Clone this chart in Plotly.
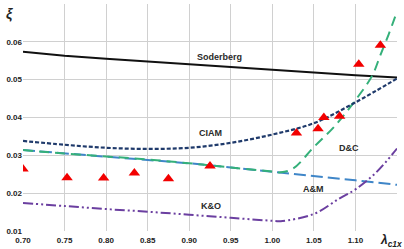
import plotly.graph_objects as go

# ---- data ----
sod_x = [0.70, 0.75, 0.80, 0.85, 0.90, 0.95, 1.00, 1.05, 1.10, 1.15]
sod_y = [0.0574, 0.0563, 0.0555, 0.0548, 0.0540, 0.0532, 0.0525, 0.0518, 0.0512, 0.0506]

ciam_x = [0.70, 0.75, 0.80, 0.85, 0.90, 0.95, 1.00, 1.05, 1.10, 1.15]
ciam_y = [0.0338, 0.0328, 0.0320, 0.0317, 0.0320, 0.0333, 0.0355, 0.0385, 0.0440, 0.0503]

dc_x = [0.70, 0.75, 0.80, 0.85, 0.90, 0.95, 1.00, 1.01, 1.025, 1.05, 1.075, 1.10, 1.12, 1.13, 1.14, 1.15]
dc_y = [0.0314, 0.0305, 0.0297, 0.0289, 0.0279, 0.0268, 0.0257, 0.0255, 0.0265, 0.0322, 0.0377, 0.0446, 0.0510, 0.0565, 0.0620, 0.0680]

am_x = [0.70, 0.75, 0.80, 0.85, 0.90, 0.95, 1.00, 1.05, 1.10, 1.15]
am_y = [0.0314, 0.0305, 0.0297, 0.0289, 0.0279, 0.0268, 0.0257, 0.0246, 0.0234, 0.0222]

ko_x = [0.70, 0.75, 0.80, 0.85, 0.90, 0.95, 1.00, 1.01, 1.05, 1.08, 1.10, 1.125, 1.15]
ko_y = [0.0174, 0.0166, 0.0158, 0.0151, 0.0143, 0.0135, 0.0127, 0.0126, 0.0145, 0.0185, 0.0210, 0.0255, 0.0318]

exp_x = [0.700, 0.753, 0.797, 0.834, 0.875, 0.925, 1.029, 1.055, 1.062, 1.081, 1.104, 1.130]
exp_y = [0.0264, 0.0241, 0.0240, 0.0253, 0.0238, 0.0272, 0.0359, 0.0370, 0.0400, 0.0403, 0.0541, 0.0591]

x_ticks = [0.70, 0.75, 0.80, 0.85, 0.90, 0.95, 1.00, 1.05, 1.10]
x_ticklabels = ["0.70", "0.75", "0.80", "0.85", "0.90", "0.95", "1.00", "1.05", "1.10"]
y_ticks = [0.01, 0.02, 0.03, 0.04, 0.05, 0.06]
y_ticklabels = ["0.01", "0.02", "0.03", "0.04", "0.05", "0.06"]

labels = ["Soderberg", "CIAM", "D&C", "A&M", "K&O"]
label_x = [0.936, 0.926, 1.092, 1.050, 0.926]
label_y = [0.0560, 0.0359, 0.0320, 0.0212, 0.0166]

FONT = "Liberation Sans, Arial, sans-serif"

fig = go.Figure()
fig.add_trace(go.Scatter(x=sod_x, y=sod_y, mode="lines", line=dict(color="#111111", width=2)))
fig.add_trace(go.Scatter(x=am_x, y=am_y, mode="lines", line=dict(color="#3F86C8", width=2, dash="12px,5px")))
fig.add_trace(go.Scatter(x=dc_x, y=dc_y, mode="lines", line=dict(color="#35B07A", width=2, dash="10px,6px"), line_shape="spline"))
fig.add_trace(go.Scatter(x=ciam_x, y=ciam_y, mode="lines", line=dict(color="#1F3A6B", width=2.2, dash="4px,2px"), line_shape="spline"))
fig.add_trace(go.Scatter(x=ko_x, y=ko_y, mode="lines", line=dict(color="#6B3FA0", width=2, dash="10px,3px,2px,3px,2px,3px"), line_shape="spline"))
fig.add_trace(go.Scatter(x=exp_x, y=exp_y, mode="markers",
                         marker=dict(symbol="triangle-up", size=10, color="#F20000")))

for t, lx, ly in zip(labels, label_x, label_y):
    fig.add_annotation(x=lx, y=ly, text="<b>" + t + "</b>", showarrow=False,
                       font=dict(family=FONT, size=9, color="#2A2A2A"))

fig.add_annotation(xref="paper", yref="paper", x=-0.036, y=1.0, text="<b><i>ξ</i></b>",
                   showarrow=False, xanchor="center", yanchor="top",
                   font=dict(family=FONT, size=14, color="#222222"))
fig.add_annotation(xref="paper", yref="paper", x=0.985, y=-0.042,
                   text="<b><i>λ</i><sub><i>c1x</i></sub></b>",
                   showarrow=False, xanchor="center", yanchor="middle",
                   font=dict(family=FONT, size=12, color="#222222"))

fig.update_layout(
    width=404, height=249,
    margin=dict(l=23, r=7, t=4, b=18),
    paper_bgcolor="white", plot_bgcolor="white",
    showlegend=False,
    font=dict(family=FONT, size=8, color="#222222"),
)
fig.update_xaxes(range=[0.70, 1.15], tickvals=x_ticks, ticktext=["<b>" + s + "</b>" for s in x_ticklabels],
                 showgrid=True, gridcolor="#D0D0D0", gridwidth=1, zeroline=False,
                 showline=False, ticks="", tickfont=dict(size=8), automargin=False,
                 ticklabelstandoff=3)
fig.update_yaxes(range=[0.01, 0.07], tickvals=y_ticks, ticktext=["<b>" + s + "</b>" for s in y_ticklabels],
                 showgrid=True, gridcolor="#D0D0D0", gridwidth=1, zeroline=False,
                 showline=False, ticks="", tickfont=dict(size=8), automargin=False)

fig.write_html("out.html", config={"displayModeBar": False},
               post_script="document.body.style.margin='0';document.body.style.overflow='hidden';")
